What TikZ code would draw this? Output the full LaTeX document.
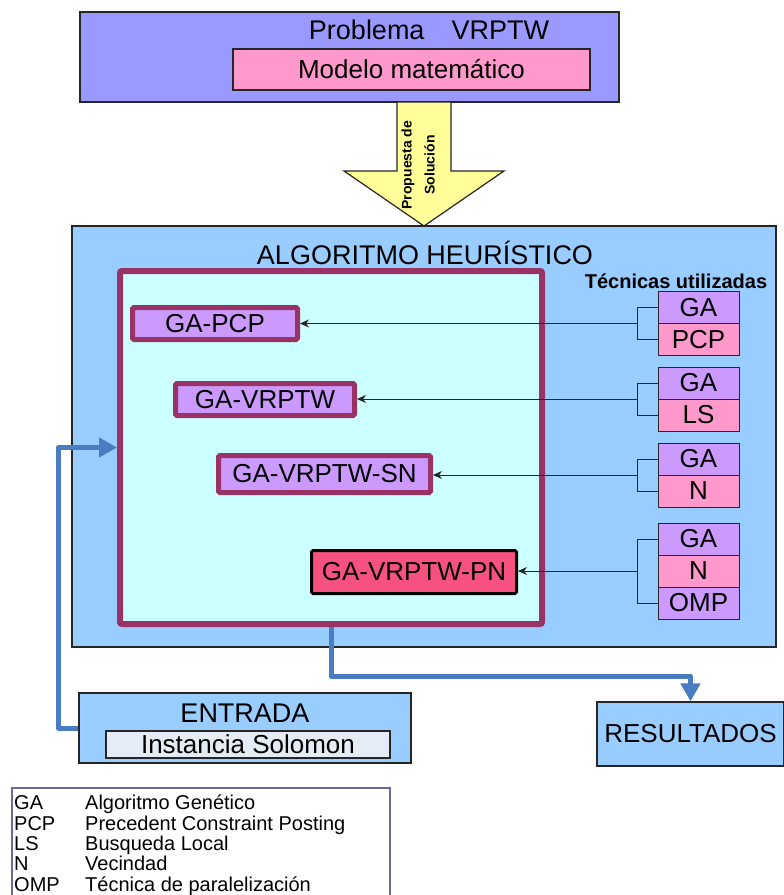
\documentclass[tikz,border=0pt]{standalone}
\usepackage{fontspec}
\setmainfont{Liberation Sans}
\usetikzlibrary{arrows.meta,positioning,calc}
\definecolor{VRPlilac}{HTML}{9999FF}
\definecolor{VRPpink}{HTML}{FF99CC}
\definecolor{VRPyellow}{HTML}{FFFF99}
\definecolor{VRPsky}{HTML}{99CCFF}
\definecolor{VRPcyan}{HTML}{CCFFFF}
\definecolor{VRPplum}{HTML}{993366}
\definecolor{VRPviolet}{HTML}{CC99FF}
\definecolor{VRProse}{HTML}{F7527F}
\definecolor{VRPflow}{HTML}{4A7CC2}
\definecolor{VRPgrey}{HTML}{E6ECF6}
\definecolor{VRPframe}{HTML}{6A6A9E}

\begin{document}
\begin{tikzpicture}[x=1pt, y=-1pt,
    >={Stealth[length=9pt,width=8pt]},
    panel/.style={draw=black!85, line width=1.2pt, fill=#1, inner sep=0pt,
                  font=\fontsize{26}{30}\selectfont},
    panel/.default=VRPsky,
    txt/.style={inner sep=0pt, font=\fontsize{27}{32}\selectfont},
    variant/.style={draw=VRPplum, line width=5pt, fill=VRPviolet, rounded corners=1.5pt,
                    inner sep=0pt, minimum height=32pt, font=\fontsize{26}{30}\selectfont},
    tech/.style={draw=black!85, line width=1pt, fill=#1, minimum width=81pt,
                 minimum height=32pt, inner sep=0pt, outer sep=0pt,
                 font=\fontsize{26}{30}\selectfont},
    wire/.style={draw=black!85, line width=1pt},
    flow/.style={draw=VRPflow, line width=5pt, line join=round,
                 -{Triangle[length=18pt,width=19pt]}},
]
\useasboundingbox (0,0) rectangle (784,895);

% problem statement
\node[panel=VRPlilac, minimum width=539pt, minimum height=90pt] (prob) at (349.5,57) {};
\node[txt] (probtitle) at (429,30) {Problema\quad VRPTW};
\node[panel=VRPpink, minimum width=357pt, minimum height=41pt] (model) at (411.5,69.5) {Modelo matemático};

% big arrow down
\draw[draw=black!85, line width=1.2pt, fill=VRPyellow]
    (397,102) -- (451,102) -- (451,171) -- (504,171) -- (424,226) -- (344,171) -- (397,171) -- cycle;
\node[rotate=90, align=center, inner sep=0pt, font=\fontsize{14}{23}\selectfont\bfseries]
    (proposal) at (418,165) {Propuesta de\\Solución};

% heuristic algorithm
\node[panel=VRPsky, minimum width=704pt, minimum height=421pt] (algo) at (424,436.5) {};
\node[txt] (algotitle) at (425,253) {ALGORITMO HEURÍSTICO};
\node[draw=VRPplum, line width=6pt, fill=VRPcyan, rounded corners=2pt,
      minimum width=422pt, minimum height=353pt] (frame) at (331,447.5) {};

\node[variant, minimum width=165pt] (gapcp) at (215,323.5) {GA-PCP};
\node[variant, minimum width=179pt] (gavrptw) at (265,399.5) {GA-VRPTW};
\node[variant, minimum width=212pt, minimum height=37pt] (gasn) at (324.5,474) {GA-VRPTW-SN};
\node[variant, draw=black, line width=3pt, fill=VRProse, minimum width=205pt,
      minimum height=43pt] (gapn) at (414,572) {GA-VRPTW-PN};

% techniques
\node[inner sep=0pt, font=\fontsize{20}{24}\selectfont\bfseries] (techtitle) at (676,281) {Técnicas utilizadas};
\node[tech=VRPviolet] (t1a) at (698.5,307.5) {GA};
\node[tech=VRPpink, below=0pt of t1a] (t1b) {PCP};
\node[tech=VRPviolet] (t2a) at (698.5,383) {GA};
\node[tech=VRPpink, below=0pt of t2a] (t2b) {LS};
\node[tech=VRPviolet] (t3a) at (698.5,459) {GA};
\node[tech=VRPpink, below=0pt of t3a] (t3b) {N};
\node[tech=VRPviolet] (t4a) at (698.5,539) {GA};
\node[tech=VRPpink, below=0pt of t4a] (t4b) {N};
\node[tech=VRPviolet, below=0pt of t4b] (t4c) {OMP};

\foreach \t/\u/\v in {t1a/t1b/gapcp, t2a/t2b/gavrptw, t3a/t3b/gasn, t4a/t4c/gapn} {
    \draw[wire] (\t.west) -- ++(-21,0) |- (\u.west);
    \path ($(\t.west)!.5!(\u.west)+(-21,0)$) coordinate (j);
    \draw[wire, ->] (j) -- (j -| \v.east);
}

% input and output
\node[panel=VRPsky, minimum width=332pt, minimum height=70pt] (entrada) at (245,728) {};
\node[txt] (entitle) at (245,713) {ENTRADA};
\node[panel=VRPgrey, minimum width=284pt, minimum height=27pt] (solomon) at (248,744.5) {Instancia Solomon};
\node[panel=VRPsky, minimum width=187pt, minimum height=64pt] (result) at (690.5,734) {RESULTADOS};

\draw[flow] (entrada.west) -- ++(-20,0) |- (frame.west);
\draw[flow] (frame.south) -- ++(0,49) -| (result.north);

% legend
\node[draw=VRPframe, line width=2pt, minimum width=378pt, minimum height=108pt,
      anchor=north west, inner sep=0pt] (legend) at (11,787) {};
\node[anchor=north west, inner sep=0pt, font=\fontsize{20}{19.5}\selectfont] (legtext) at (14,795) {%
    \begin{tabular}{@{}p{71pt}@{}l@{}}
    GA  & Algoritmo Genético\\
    PCP & Precedent Constraint Posting\\
    LS  & Busqueda Local\\
    N   & Vecindad\\
    OMP & Técnica de paralelización
    \end{tabular}};
\end{tikzpicture}
\end{document}
